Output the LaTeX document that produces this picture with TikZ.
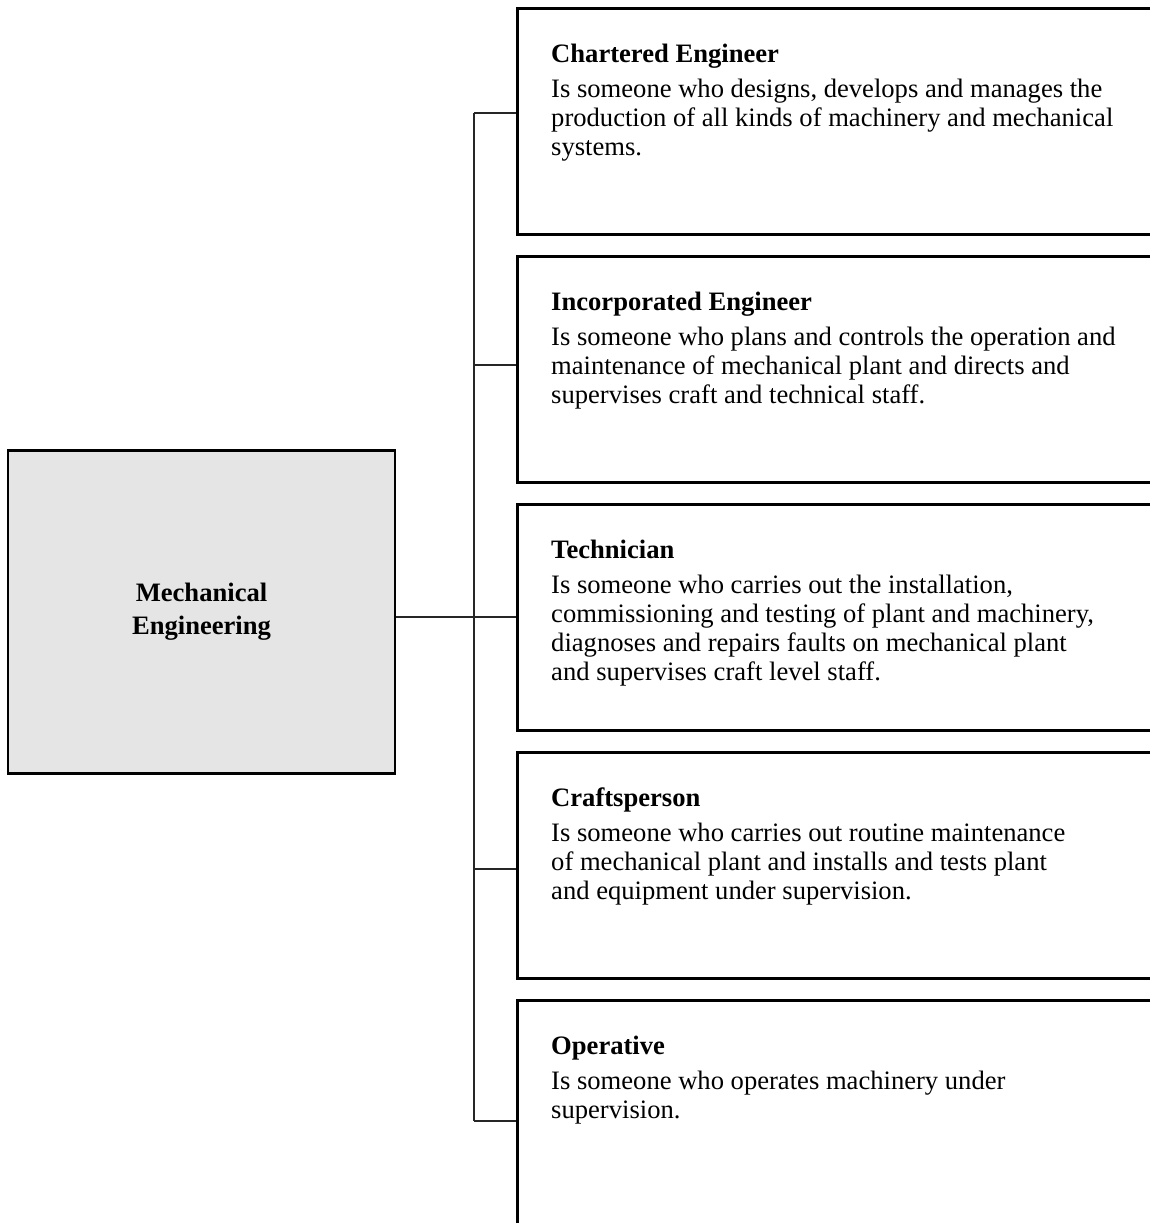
\documentclass[tikz,border=0pt]{standalone}
\usepackage{fontspec}
\setmainfont{Liberation Serif}
\begin{document}
\begin{tikzpicture}[x=1pt,y=-1pt,
  rolebox/.style={draw=black,line width=2.6pt,minimum width=700pt,minimum height=226pt,anchor=north west,inner sep=0pt},
  roletext/.style={anchor=north west,align=left,inner sep=0pt,font=\fontsize{26.6}{29}\selectfont},
  mainbox/.style={draw=black,line width=2.6pt,fill=black!10,minimum width=387pt,minimum height=323pt,inner sep=0pt,align=center,font=\bfseries\fontsize{26.6}{33}\selectfont},
  conn/.style={line width=2.2pt,draw=black!85}]
\clip (0,0) rectangle (1150,1223);
\fill[white] (0,0) rectangle (1150,1223);
\node[mainbox] (me) at (201.5,612) {Mechanical\\Engineering};
\node[rolebox] (r1) at (516,7) {};
\node[rolebox] (r2) at (516,255) {};
\node[rolebox] (r3) at (516,503) {};
\node[rolebox] (r4) at (516,751) {};
\node[rolebox,minimum height=320pt] (r5) at (516,999) {};
\node[roletext] (t1) at (551,44) {\textbf{Chartered Engineer}\\[6pt]Is someone who designs, develops and manages the\\production of all kinds of machinery and mechanical\\systems.};
\node[roletext] (t2) at (551,292) {\textbf{Incorporated Engineer}\\[6pt]Is someone who plans and controls the operation and\\maintenance of mechanical plant and directs and\\supervises craft and technical staff.};
\node[roletext] (t3) at (551,540) {\textbf{Technician}\\[6pt]Is someone who carries out the installation,\\commissioning and testing of plant and machinery,\\diagnoses and repairs faults on mechanical plant\\and supervises craft level staff.};
\node[roletext] (t4) at (551,788) {\textbf{Craftsperson}\\[6pt]Is someone who carries out routine maintenance\\of mechanical plant and installs and tests plant\\and equipment under supervision.};
\node[roletext] (t5) at (551,1036) {\textbf{Operative}\\[6pt]Is someone who operates machinery under\\supervision.};
\coordinate (b1) at (474,113);
\coordinate (b2) at (474,365);
\coordinate (b3) at (474,617);
\coordinate (b4) at (474,869);
\coordinate (b5) at (474,1121);
\draw[conn] (b1) -- (b5);
\draw[conn] (me.east |- b3) -- (b3);
\draw[conn] (b1) -- (b1 -| r1.west);
\draw[conn] (b2) -- (b2 -| r2.west);
\draw[conn] (b3) -- (b3 -| r3.west);
\draw[conn] (b4) -- (b4 -| r4.west);
\draw[conn] (b5) -- (b5 -| r5.west);
\end{tikzpicture}
\end{document}
